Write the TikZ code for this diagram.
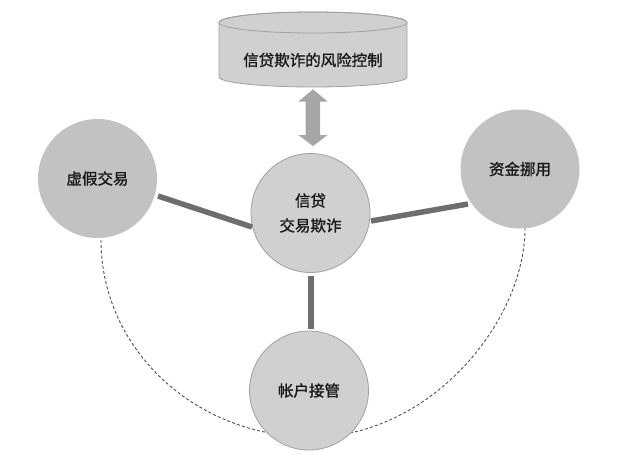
\documentclass[tikz,border=0pt]{standalone}
\usepackage{fontspec}
\newfontfamily\cjk[FakeBold=1.3]{Noto Sans CJK SC}
\usetikzlibrary{shapes.geometric}
\definecolor{fillA}{HTML}{C2C2C2}
\definecolor{fillB}{HTML}{D0D0D0}
\definecolor{edgeC}{HTML}{A0A0A0}
\definecolor{linkC}{HTML}{6E6E6E}
\definecolor{arrC}{HTML}{A6A6A6}
\definecolor{dashC}{HTML}{505050}
\tikzset{
  bub/.style={circle, minimum size=119pt, inner sep=0pt, font=\cjk\fontsize{15.5}{25}\selectfont, align=center, text=black!90},
  bubA/.style={bub, fill=fillA},
  bubB/.style={bub, fill=fillB, draw=edgeC, line width=0.8pt},
  link/.style={draw=linkC, line width=5.5pt},
  arc/.style={draw=dashC, line width=0.9pt, dash pattern=on 3pt off 2.2pt},
}
\begin{document}
\begin{tikzpicture}[x=1pt,y=-1pt]
\useasboundingbox (0,0) rectangle (642,458);
% dashed arc
\coordinate (al) at (101,240);
\coordinate (ab) at (312,437);
\coordinate (ar) at (525,228);
\draw[arc] (al) .. controls (101,349) and (195,437) .. (ab)
  .. controls (430,437) and (525,322) .. (ar);
% cylinder
\path[fill=fillB, draw=edgeC, line width=0.8pt]
  (219,22.5) -- (219,77) arc[start angle=180, end angle=0, x radius=94, y radius=10]
  -- (407,22.5) arc[start angle=0, end angle=-180, x radius=94, y radius=10.5] -- cycle;
\draw[edgeC, line width=0.8pt] (313,22.5) ellipse[x radius=94, y radius=10.5];
\node[font=\cjk\fontsize{15.5}{18}\selectfont, text=black!90] (ctl) at (313,60) {信贷欺诈的风险控制};
% double arrow
\coordinate (t1) at (313,89.3);
\path[fill=arrC] (t1) -- (327.7,101.7) -- (320,101.7) -- (320,135) -- (327.7,135) -- (313,146)
  -- (298.3,135) -- (305.7,135) -- (305.7,101.7) -- (298.3,101.7) -- cycle;
% circles
\node[bubB] (c) at (310.5,213) {信贷\\交易欺诈};
\node[bubA] (l) at (97.5,178.5) {虚假交易};
\node[bubA] (r) at (520,169) {资金挪用};
\node[bubB] (b) at (309,390.5) {帐户接管};
% links
\coordinate (l1) at (158,196);
\coordinate (l2) at (252,227);
\coordinate (r1) at (371,221);
\coordinate (r2) at (468,204);
\coordinate (v1) at (311,276);
\coordinate (v2) at (311,328.5);
\draw[link] (l1) -- (l2);
\draw[link] (r1) -- (r2);
\draw[link] (v1) -- (v2);
\end{tikzpicture}
\end{document}
